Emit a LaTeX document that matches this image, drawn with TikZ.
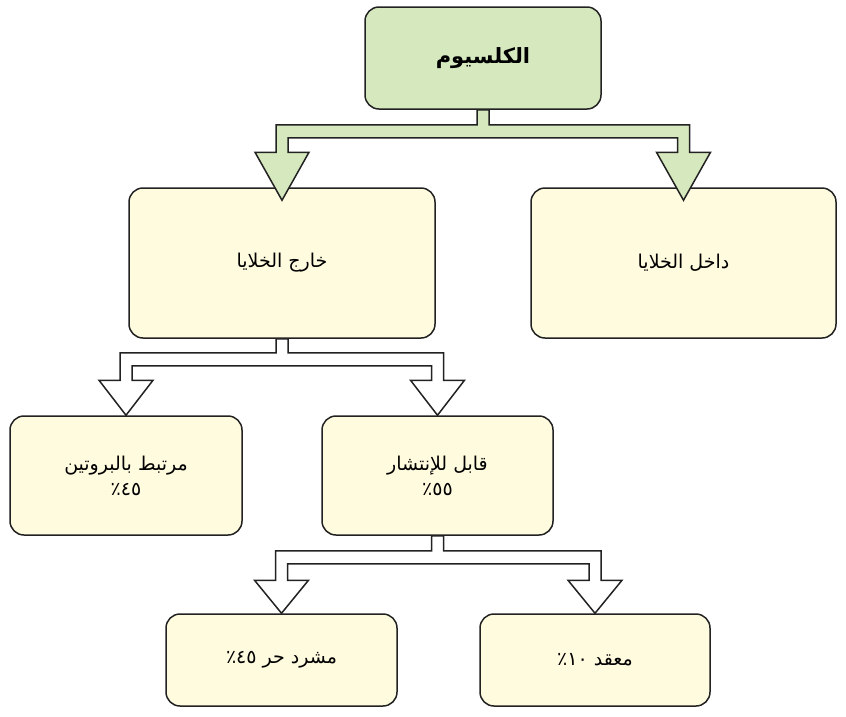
\documentclass[tikz,border=0pt]{standalone}
\usepackage{fontspec}
\newfontfamily\arabicfont[Script=Arabic]{DejaVu Sans}
\TeXXeTstate=1
\usetikzlibrary{calc}
\definecolor{leafgreen}{HTML}{D5E8BE}
\definecolor{paleyellow}{HTML}{FFFBDF}
\definecolor{edgegray}{HTML}{222222}

% block arrow: parent, left child, right child, bar offset, tip shift, head height, fill
\newcommand{\splitarrow}[7]{%
  \path (#1.south) ++(0,#4) coordinate (bar);
  \filldraw[arrowline, fill=#7]
    ($(#1.south)+(-6,0)$) -- ($(#1.south |- bar)+(-6,0)$)
    -- ($(#2.north |- bar)+(-6,0)$) -- ($(#2.north)+(-6,#5-#6)$)
    -- ($(#2.north)+(-27,#5-#6)$) -- ($(#2.north)+(0,#5)$)
    -- ($(#2.north)+(27,#5-#6)$) -- ($(#2.north)+(6,#5-#6)$)
    -- ($(#2.north |- bar)+(6,13)$) -- ($(#3.north |- bar)+(-6,13)$)
    -- ($(#3.north)+(-6,#5-#6)$) -- ($(#3.north)+(-27,#5-#6)$)
    -- ($(#3.north)+(0,#5)$) -- ($(#3.north)+(27,#5-#6)$)
    -- ($(#3.north)+(6,#5-#6)$) -- ($(#3.north |- bar)+(6,0)$)
    -- ($(#1.south |- bar)+(6,0)$) -- ($(#1.south)+(6,0)$) -- cycle;
}

\begin{document}
\begin{tikzpicture}[x=1pt, y=-1pt,
        box/.style={rectangle, rounded corners=14pt, draw=edgegray, line width=1.5pt,
                    fill=paleyellow, align=center, font=\arabicfont\fontsize{19}{25}\selectfont},
        arrowline/.style={draw=edgegray, line width=1.5pt, line join=miter}
    ]
    \useasboundingbox (0,0) rectangle (846,716);

    \node[box, fill=leafgreen, minimum width=236pt, minimum height=102pt,
          font=\arabicfont\bfseries\fontsize{21}{25}\selectfont] (calcium) at (483,58) {\beginR الكلسيوم\endR};
    \node[box, minimum width=306pt, minimum height=150pt] (outside) at (282,263) {\beginR خارج الخلايا\endR};
    \node[box, minimum width=305pt, minimum height=150pt] (inside) at (683.5,263) {\beginR داخل الخلايا\endR};
    \node[box, minimum width=232pt, minimum height=119pt] (bound) at (126,475.5) {\beginR مرتبط بالبروتين\endR\\\beginR ٤٥٪\endR};
    \node[box, minimum width=231pt, minimum height=119pt] (diffuse) at (437.5,475.5) {\beginR قابل للإنتشار\endR\\\beginR ٥٥٪\endR};
    \node[box, minimum width=231pt, minimum height=92pt] (free) at (281.5,660) {\beginR مشرد حر ٤٥٪\endR};
    \node[box, minimum width=230pt, minimum height=92pt] (complex) at (595,660) {\beginR معقد ١٠٪\endR};

    \splitarrow{calcium}{outside}{inside}{15}{13}{48}{leafgreen}
    \splitarrow{outside}{bound}{diffuse}{14}{0}{35}{white}
    \splitarrow{diffuse}{free}{complex}{15}{0}{33}{white}
\end{tikzpicture}
\end{document}
